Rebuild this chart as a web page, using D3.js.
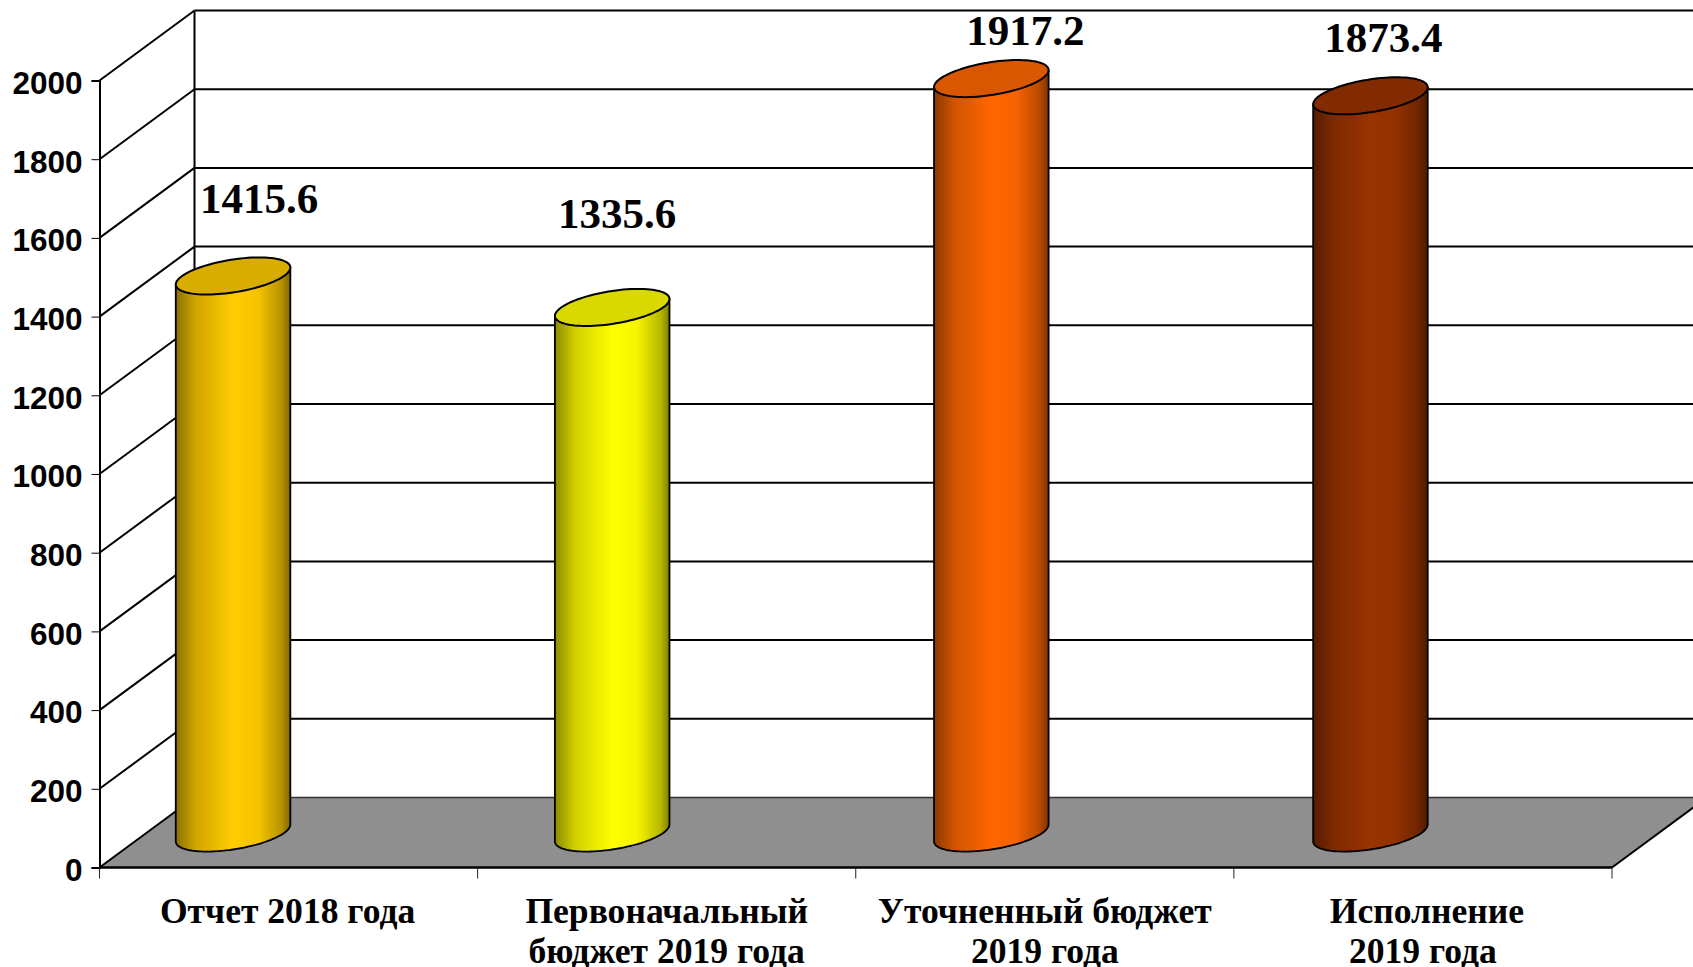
<!DOCTYPE html>
<html><head><meta charset="utf-8">
<script src="https://cdn.jsdelivr.net/npm/d3@7"></script>
<style>
html,body{margin:0;padding:0;background:#fff;overflow:hidden}
svg{display:block}
.tick-label{font-family:"Liberation Sans",Arial,sans-serif;font-weight:700;font-size:31.5px;fill:#000}
.serif{font-family:"Liberation Serif","Times New Roman",serif;font-weight:700;fill:#000}
</style></head><body>
<svg id="c" width="1693" height="967"></svg>
<script>
const categories = [["Отчет 2018 года"],["Первоначальный","бюджет 2019 года"],["Уточненный бюджет","2019 года"],["Исполнение","2019 года"]];
const values = [1415.6,1335.6,1917.2,1873.4];
const barColors = ["#FFCC00","#FFFF00","#FF6600","#993300"];
const yTicks = [0,200,400,600,800,1000,1200,1400,1600,1800,2000];
const labelShiftX = [26,5,34,13];
const labelShiftY = [-63,-79,-34,-44];
const categoryShiftX = [[-1],[0,0],[0,0],[4,0]];

const W=1693,H=967;
const left=99.5,right=1612,y0=867.5,y2k=80.5,depthX=95,depthY=-70;
const svg=d3.select("#c");
const x=d3.scaleBand().domain(d3.range(values.length)).range([left,right]);
const y=d3.scaleLinear().domain([0,2000]).range([y0,y2k]);
const defs=svg.append("defs");
const stroke="#000";

// floor
svg.append("path")
  .attr("d",d3.line()([[left,y0],[right,y0],[right+depthX,y0+depthY],[left+depthX,y0+depthY]])+"Z")
  .attr("fill","#8f8f8f");
svg.append("line").attr("x1",left+depthX).attr("x2",W).attr("y1",y0+depthY).attr("y2",y0+depthY).attr("stroke","#333").attr("stroke-width",1.5);
svg.append("line").attr("x1",right).attr("x2",right+depthX).attr("y1",y0).attr("y2",y0+depthY).attr("stroke",stroke).attr("stroke-width",2);

// back wall grid
svg.append("g").selectAll("line").data(yTicks.filter(d=>d>0)).join("line")
  .attr("x1",left+depthX).attr("x2",W)
  .attr("y1",d=>y(d)+depthY).attr("y2",d=>y(d)+depthY)
  .attr("stroke",stroke).attr("stroke-width",2);
// side wall
svg.append("g").selectAll("line").data(yTicks).join("line")
  .attr("x1",left).attr("x2",left+depthX)
  .attr("y1",d=>y(d)).attr("y2",d=>y(d)+depthY)
  .attr("stroke",stroke).attr("stroke-width",2);
svg.append("line").attr("x1",left+depthX).attr("x2",left+depthX)
  .attr("y1",y(0)+depthY).attr("y2",y(2000)+depthY).attr("stroke",stroke).attr("stroke-width",2);

// axes
const gy=svg.append("g").attr("transform",`translate(${left},0)`)
  .call(d3.axisLeft(y).tickValues(yTicks).tickSize(8).tickPadding(9).tickFormat(d3.format("d")));
gy.selectAll("text").attr("class","tick-label").attr("fill",null).attr("dy","0.36em").attr("transform","translate(0,1.5)");
gy.selectAll("line,path").attr("stroke","#000");
gy.select(".domain").attr("stroke-width",2);

const gx=svg.append("g").attr("transform",`translate(0,${y0})`);
gx.append("line").attr("x1",left).attr("x2",right).attr("stroke","#000").attr("stroke-width",2.5);
gx.selectAll(".t").data(d3.range(values.length+1)).join("line").attr("class","t")
  .attr("x1",i=>left+i*x.step()).attr("x2",i=>left+i*x.step())
  .attr("y1",0).attr("y2",11).attr("stroke","#222").attr("stroke-width",1);

// cylinders
const rx=x.bandwidth()*0.1515, ry=16.5, shear=0.148;
const barShiftX=-55.5, barShiftY=-34.5, barSpread=1;
const line=d3.line();
const arc=(cx,cy)=>d3.range(0,Math.PI+0.001,Math.PI/48).map(t=>[cx-rx*Math.cos(t),cy+ry*Math.sin(t)+shear*rx*Math.cos(t)]);
const fullEllipse=(cx,cy)=>d3.range(0,2*Math.PI+0.001,Math.PI/48).map(t=>[cx-rx*Math.cos(t),cy+ry*Math.sin(t)+shear*rx*Math.cos(t)]);

values.forEach((v,i)=>{
  const col=d3.color(barColors[i]);
  const id="g"+i;
  const shade=f=>{const c=d3.rgb(col);return d3.rgb(c.r*f,c.g*f,c.b*f).formatHex();};
  const gr=defs.append("linearGradient").attr("id",id).attr("x1","0").attr("x2","1").attr("y1","0").attr("y2","0");
  [[0,0.55],[0.18,0.82],[0.5,1],[0.72,0.96],[0.92,0.72],[1,0.5]].forEach(([o,f])=>gr.append("stop").attr("offset",o).attr("stop-color",shade(f)));
  const cx=x(i)+x.bandwidth()/2+barShiftX+i*barSpread;
  const base=y(0)+barShiftY, top=y(v)+barShiftY;
  const pts=[[cx+rx,top-shear*rx],[cx-rx,top+shear*rx],...arc(cx,base)];
  svg.append("path").attr("d",line(pts)+"Z").attr("fill",`url(#${id})`).attr("stroke","#000").attr("stroke-width",1.8).attr("stroke-linejoin","round");
  svg.append("path").attr("d",line(fullEllipse(cx,top))+"Z").attr("fill",shade(0.85)).attr("stroke","#000").attr("stroke-width",2);
  svg.append("text").attr("class","serif").attr("font-size",43).attr("text-anchor","middle")
    .attr("x",cx+labelShiftX[i]).attr("y",top+labelShiftY[i]).text(d3.format(".1f")(v));
});

// category labels
categories.forEach((lines,i)=>{
  const t=svg.append("text").attr("class","serif").attr("font-size",35.6).attr("text-anchor","middle");
  lines.forEach((s,j)=>t.append("tspan").attr("x",x(i)+x.bandwidth()/2+categoryShiftX[i][j]).attr("y",923+j*39.5).text(s));
});
</script>
</body></html>
